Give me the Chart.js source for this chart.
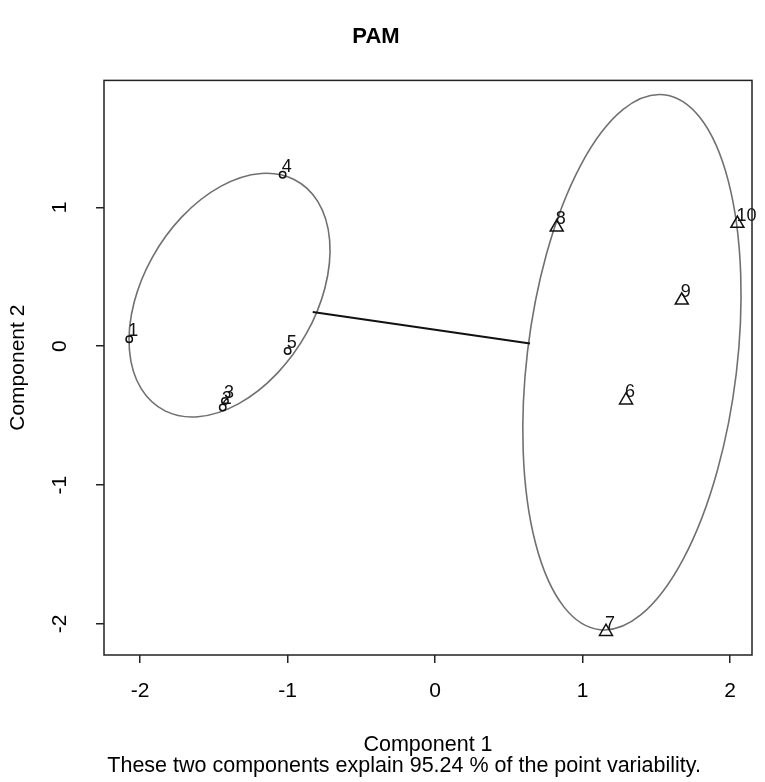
<!DOCTYPE html>
<html>
<head>
<meta charset="utf-8">
<script src="https://cdn.jsdelivr.net/npm/chart.js@4.4.1/dist/chart.umd.min.js"></script>
<style>
  html, body { margin: 0; padding: 0; background: #fff; }
</style>
</head>
<body>
<canvas id="myChart" width="765" height="782"></canvas>
<script>
// cluster 1 (circles) and cluster 2 (triangles)
var labels1 = ['1', '2', '3', '4', '5'];
var x1 = [-2.073, -1.439, -1.424, -1.033, -0.999];
var y1 = [0.050, -0.441, -0.394, 1.235, -0.034];

var labels2 = ['6', '7', '8', '9', '10'];
var x2 = [1.295, 1.159, 0.825, 1.673, 2.050];
var y2 = [-0.388, -2.055, 0.856, 0.331, 0.883];

// cluster ellipses: centre, semi axes, angle of major axis (degrees)
var ellCx = [-1.393, 1.335];
var ellCy = [0.368, -0.115];
var ellA = [0.941, 1.938];
var ellB = [0.590, 0.712];
var ellAngle = [62.3, 83.6];

// segment joining the two ellipses
var segX = [-0.829, 0.644];
var segY = [0.247, 0.019];

var xTicks = [-2, -1, 0, 1, 2];
var yTicks = [-2, -1, 0, 1];
var xMin = -2.244, xMax = 2.149;
var yMin = -2.223, yMax = 1.914;

var subText = 'These two components explain 95.24 % of the point variability.';

function toPoints(xs, ys) {
    var pts = [];
    xs.forEach(function (x, i) {
        pts.push({x: x, y: ys[i]});
    });
    return pts;
}

var boxAndEllipses = {
    id: 'boxAndEllipses',
    beforeDatasetsDraw: function (chart) {
        var ctx = chart.ctx;
        var xs = chart.scales.x, ys = chart.scales.y;
        var x0 = xs.getPixelForValue(0), y0 = ys.getPixelForValue(0);
        var sx = xs.getPixelForValue(1) - x0, sy = ys.getPixelForValue(1) - y0;
        ctx.save();
        ctx.strokeStyle = '#707070';
        ctx.lineWidth = 1.6;
        ellCx.forEach(function (cx, i) {
            ctx.save();
            ctx.transform(sx, 0, 0, sy, x0, y0);
            ctx.beginPath();
            ctx.ellipse(cx, ellCy[i], ellA[i], ellB[i], ellAngle[i] * Math.PI / 180, 0, 2 * Math.PI);
            ctx.restore();
            ctx.stroke();
        });
        ctx.restore();
    },
    afterDraw: function (chart) {
        var a = chart.chartArea, ctx = chart.ctx;
        ctx.save();
        ctx.strokeStyle = '#222';
        ctx.lineWidth = 1.5;
        ctx.strokeRect(a.left, a.top, a.right - a.left, a.bottom - a.top);
        ctx.restore();
    }
};

var pointNames = {
    id: 'pointNames',
    afterDatasetsDraw: function (chart) {
        var ctx = chart.ctx;
        ctx.save();
        ctx.font = '18px "Liberation Sans", Arial, sans-serif';
        ctx.fillStyle = '#111';
        ctx.textAlign = 'left';
        ctx.textBaseline = 'middle';
        chart.data.datasets.forEach(function (ds, i) {
            if (!ds.names) return;
            chart.getDatasetMeta(i).data.forEach(function (pt, j) {
                ctx.fillText(ds.names[j], pt.x - 1, pt.y - 8);
            });
        });
        ctx.restore();
    }
};

var ctx = document.getElementById('myChart').getContext('2d');
var myChart = new Chart(ctx, {
    type: 'scatter',
    data: {
        datasets: [{
            data: toPoints(segX, segY),
            showLine: true,
            borderColor: '#111',
            borderWidth: 2,
            pointRadius: 0
        }, {
            data: toPoints(x1, y1),
            names: labels1,
            pointStyle: 'circle',
            pointRadius: 3.2,
            pointBorderWidth: 1.5,
            borderColor: '#111',
            backgroundColor: 'rgba(0,0,0,0)'
        }, {
            data: toPoints(x2, y2),
            names: labels2,
            pointStyle: 'triangle',
            pointRadius: 7.5,
            pointBorderWidth: 1.5,
            borderColor: '#111',
            backgroundColor: 'rgba(0,0,0,0)'
        }]
    },
    options: {
        responsive: false,
        animation: false,
        layout: {padding: {left: 0, right: 13, top: 0, bottom: 0}},
        plugins: {
            legend: {display: false},
            tooltip: {enabled: false},
            title: {
                display: true,
                text: 'PAM',
                color: '#000',
                font: {family: '"Liberation Sans", Arial, sans-serif', size: 22, weight: 'bold', lineHeight: 1.2},
                padding: {top: 24, bottom: 30}
            }
        },
        scales: {
            x: {
                type: 'linear',
                min: xMin,
                max: xMax,
                afterBuildTicks: function (scale) {
                    scale.ticks = xTicks.map(function (v) { return {value: v}; });
                },
                afterFit: function (scale) { scale.height = 127; },
                border: {display: false},
                grid: {drawOnChartArea: false, drawTicks: true, tickLength: 8, color: '#222', lineWidth: 1.5},
                ticks: {
                    color: '#000',
                    padding: 16,
                    maxRotation: 0,
                    font: {family: '"Liberation Sans", Arial, sans-serif', size: 21}
                },
                title: {
                    display: true,
                    // trailing spaces push the second line left, as in the original
                    text: ['Component 1', subText + '        '],
                    color: '#000',
                    font: {family: '"Liberation Sans", Arial, sans-serif', size: 21.5, lineHeight: 0.98},
                    padding: {top: 0, bottom: 5}
                }
            },
            y: {
                type: 'linear',
                min: yMin,
                max: yMax,
                afterBuildTicks: function (scale) {
                    scale.ticks = yTicks.map(function (v) { return {value: v}; });
                },
                afterFit: function (scale) { scale.width = 104; },
                border: {display: false},
                grid: {drawOnChartArea: false, drawTicks: true, tickLength: 8, color: '#222', lineWidth: 1.5},
                ticks: {
                    color: '#000',
                    padding: 26,
                    minRotation: 90,
                    maxRotation: 90,
                    crossAlign: 'center',
                    font: {family: '"Liberation Sans", Arial, sans-serif', size: 21}
                },
                title: {
                    display: true,
                    text: 'Component 2',
                    color: '#000',
                    font: {family: '"Liberation Sans", Arial, sans-serif', size: 21, lineHeight: 1.0},
                    padding: {top: 7.5, bottom: 0}
                }
            }
        }
    },
    plugins: [boxAndEllipses, pointNames]
});
</script>
</body>
</html>
